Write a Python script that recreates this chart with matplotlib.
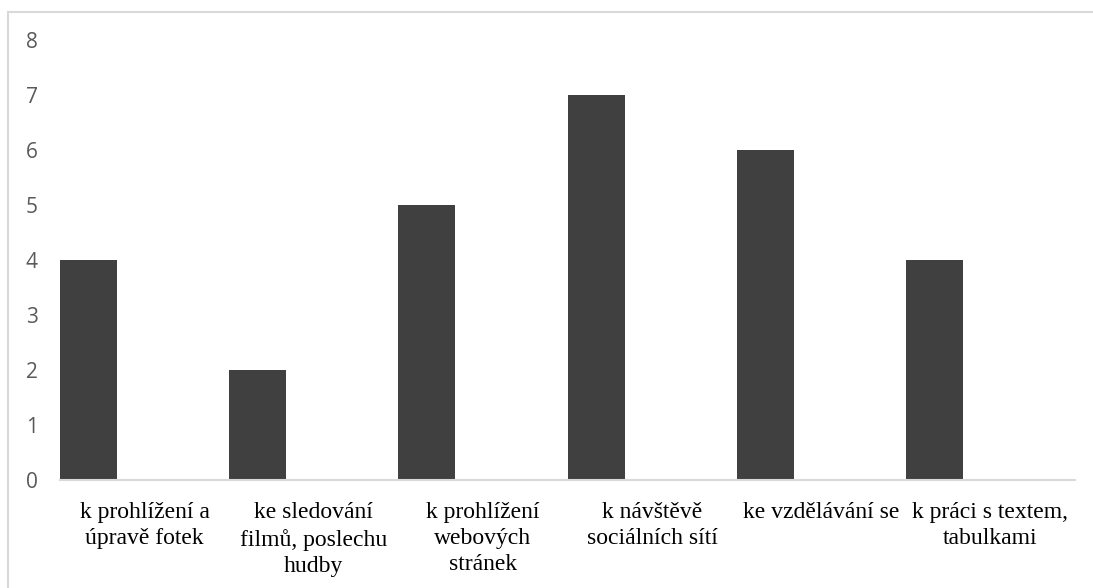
import numpy as np
import matplotlib.pyplot as plt
from matplotlib.patches import Rectangle

kategorie = ['k prohlížení a\núpravě fotek',
             'ke sledování\nfilmů, poslechu\nhudby',
             'k prohlížení\nwebových\nstránek',
             'k návštěvě\nsociálních sítí',
             'ke vzdělávání se',
             'k práci s textem,\ntabulkami']
pocty = [4, 2, 5, 7, 6, 4]
y_ticks = [0, 1, 2, 3, 4, 5, 6, 7, 8]

W, H = 1093, 588
fig = plt.figure(figsize=(W / 100, H / 100), dpi=100)
ax = fig.add_axes([60 / W, 1 - 480 / H, (1075 - 60) / W, (480 - 40) / H])

x = np.arange(len(kategorie))
ax.bar(x - 0.5, pocty, width=0.337, align='edge', color='#404040')

ax.set_xlim(-0.5, len(kategorie) - 0.5)
ax.set_ylim(0, 8)
ax.set_yticks(y_ticks)
ax.set_yticklabels([str(v) for v in y_ticks], family='Open Sans',
                   fontsize=15, color='#595959')
ax.set_xticks(x)
ax.set_xticklabels(kategorie, family='Liberation Serif', fontsize=17,
                   color='black', linespacing=1.32)
ax.tick_params(axis='y', length=0, pad=16)
ax.tick_params(axis='x', length=0, pad=16)

for s in ['top', 'right', 'left']:
    ax.spines[s].set_visible(False)
ax.spines['bottom'].set_color('#d9d9d9')
ax.spines['bottom'].set_linewidth(1.5)

# ramecek kolem grafu
fig.patches.append(Rectangle((8 / W, -0.05), 1.1, 1 - 12 / H + 0.05,
                             transform=fig.transFigure, fill=False,
                             edgecolor='#d9d9d9', linewidth=1.5))

fig.savefig('out.png', dpi=100)
